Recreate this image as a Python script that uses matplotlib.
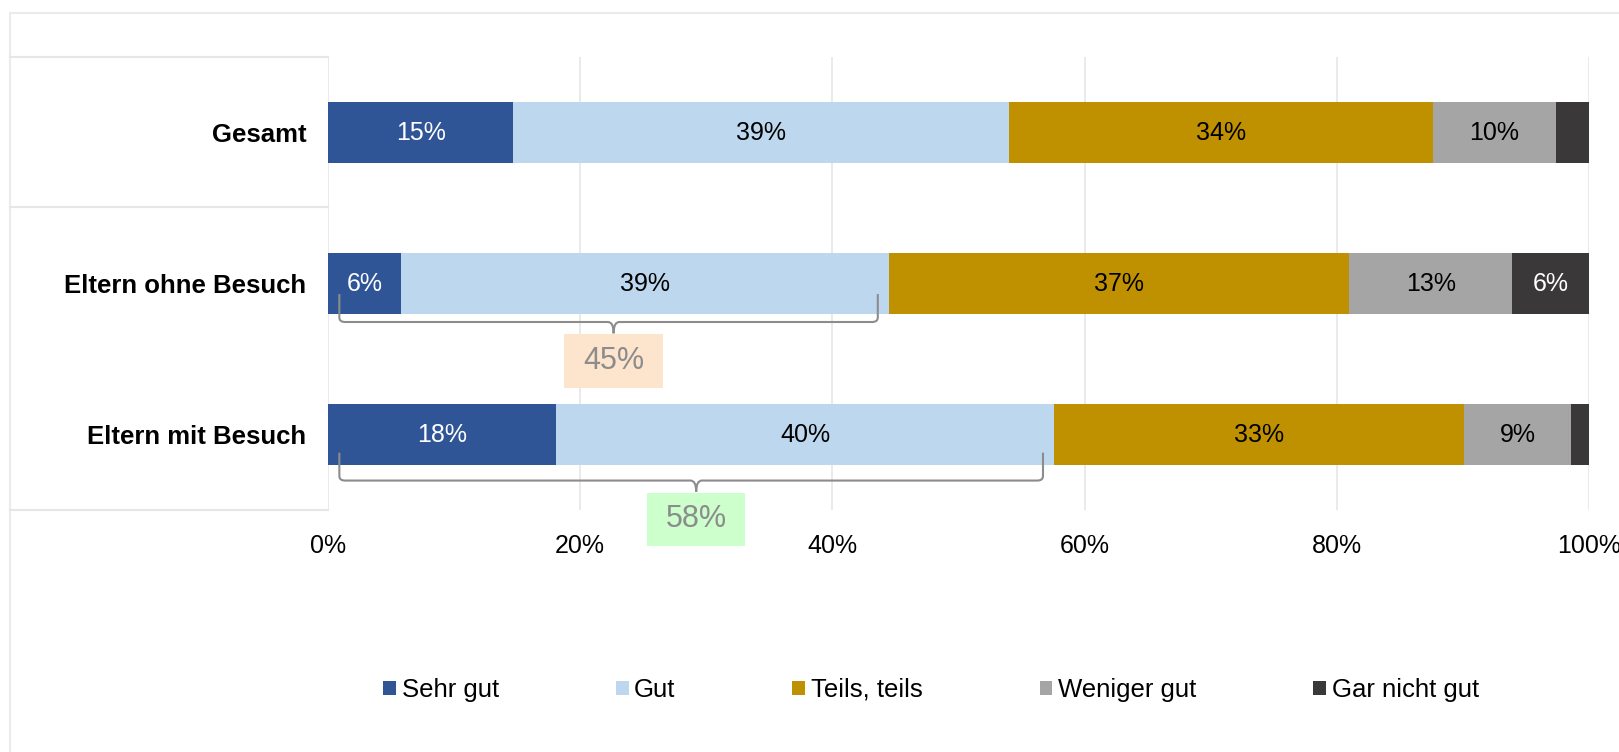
import matplotlib
matplotlib.use("Agg")
import matplotlib.pyplot as plt
from matplotlib.patches import Rectangle, PathPatch, Patch
from matplotlib.path import Path
from matplotlib.lines import Line2D


plt.rcParams["font.family"] = ["Liberation Sans", "DejaVu Sans"]

GROUPS = ["Gesamt", "Eltern ohne Besuch", "Eltern mit Besuch"]
SERIES = ["Sehr gut", "Gut", "Teils, teils", "Weniger gut", "Gar nicht gut"]
COLORS = ["#2f5597", "#bdd7ee", "#bf9000", "#a5a5a5", "#3a3838"]
TEXT_COLORS = ["white", "black", "black", "black", "white"]

sehr_gut = [14.7, 5.8, 18.1]
gut = [39.3, 38.7, 39.5]
teils = [33.6, 36.5, 32.5]
weniger = [9.8, 12.9, 8.5]
gar_nicht = [2.6, 6.1, 1.4]

# bracket annotations: group index, summed share label, box colour
bracket_groups = [1, 2]
bracket_labels = ["45%", "58%"]
bracket_colors = ["#fde4cc", "#ccffcc"]

W, H = 1619, 752


def fx(px):
    return px / W


def fy(py):
    return 1 - py / H


def bracket(ax, x0, x1, xm, yt, yh, yb, rx=0.45, ry=0.03):
    verts = [
        (x0, yt), (x0, yh - ry),
        (x0, yh), (x0 + rx, yh),
        (xm - rx, yh),
        (xm, yh), (xm, yb),
        (xm, yh), (xm + rx, yh),
        (x1 - rx, yh),
        (x1, yh), (x1, yh - ry),
        (x1, yt),
    ]
    codes = [
        Path.MOVETO, Path.LINETO,
        Path.CURVE3, Path.CURVE3,
        Path.LINETO,
        Path.CURVE3, Path.CURVE3,
        Path.CURVE3, Path.CURVE3,
        Path.LINETO,
        Path.CURVE3, Path.CURVE3,
        Path.LINETO,
    ]
    ax.add_patch(PathPatch(Path(verts, codes), fill=False, edgecolor="#8c8c8c",
                           lw=1.5, clip_on=False, zorder=5))


def main():
    fig = plt.figure(figsize=(W / 100, H / 100), dpi=100)
    ax = fig.add_axes([fx(328), fy(510), fx(1589) - fx(328), fy(57) - fy(510)])

    data = [sehr_gut, gut, teils, weniger, gar_nicht]
    ypos = list(range(len(GROUPS)))
    left = [0.0] * len(GROUPS)
    for name, vals, col, tcol in zip(SERIES, data, COLORS, TEXT_COLORS):
        ax.barh(ypos, vals, left=left, height=0.4, color=col, label=name, zorder=3)
        for y, v, l in zip(ypos, vals, left):
            if v >= 3:
                ax.text(l + v / 2, y, f"{int(v + 0.5)}%", ha="center", va="center",
                        color=tcol, fontsize=18, zorder=4)
        left = [l + v for l, v in zip(left, vals)]

    # brackets summing the two best answers
    for gi, lab, bcol in zip(bracket_groups, bracket_labels, bracket_colors):
        total = sehr_gut[gi] + gut[gi]
        x0, x1 = 0.9, total - 0.9
        xm = total / 2 + 0.4
        off = 0.0 if gi == 1 else 0.05
        bracket(ax, x0, x1, xm, gi + 0.07 + off, gi + 0.255 + off, gi + 0.33 + off)
        ax.add_patch(Rectangle((xm - 3.9, gi + 0.335 + off), 7.8, 0.355,
                               facecolor=bcol, edgecolor="none", clip_on=False, zorder=5))
        ax.text(xm, gi + 0.51 + off, lab, ha="center", va="center",
                color="#8c8c8c", fontsize=22, zorder=6, clip_on=False)

    ax.set_xlim(0, 100)
    ax.set_ylim(2.5, -0.5)
    ax.set_xticks(range(0, 101, 20))
    ax.set_xticklabels([f"{t}%" for t in range(0, 101, 20)], fontsize=18)
    ax.set_yticks(ypos)
    ax.set_yticklabels(GROUPS, fontsize=18.5, fontweight="bold")
    ax.tick_params(axis="both", length=0)
    ax.tick_params(axis="x", pad=17)
    ax.tick_params(axis="y", pad=15.5)
    ax.grid(axis="x", color="#e6e6e6", lw=1.2, zorder=0)
    for s in ax.spines.values():
        s.set_visible(False)

    # outer frame and category table lines
    border = "#e9ecef"
    fig.add_artist(Line2D([fx(10), 1], [fy(13), fy(13)], color=border, lw=1.5))
    fig.add_artist(Line2D([fx(10), fx(10)], [fy(13), 0], color=border, lw=1.5))
    for py in [57, 207, 510]:
        fig.add_artist(Line2D([fx(10), fx(328)], [fy(py), fy(py)], color="#e6e6e6", lw=1.5))

    handles = [Patch(facecolor=c, edgecolor="none") for c in COLORS]
    fig.legend(handles, SERIES, loc="center", bbox_to_anchor=(fx(931), fy(690)),
               ncol=5, frameon=False, fontsize=18.5, handlelength=0.5, handleheight=0.5,
               handletextpad=0.22, columnspacing=4.55, borderpad=0)

    fig.savefig("out.png", dpi=100)


if __name__ == "__main__":
    main()
